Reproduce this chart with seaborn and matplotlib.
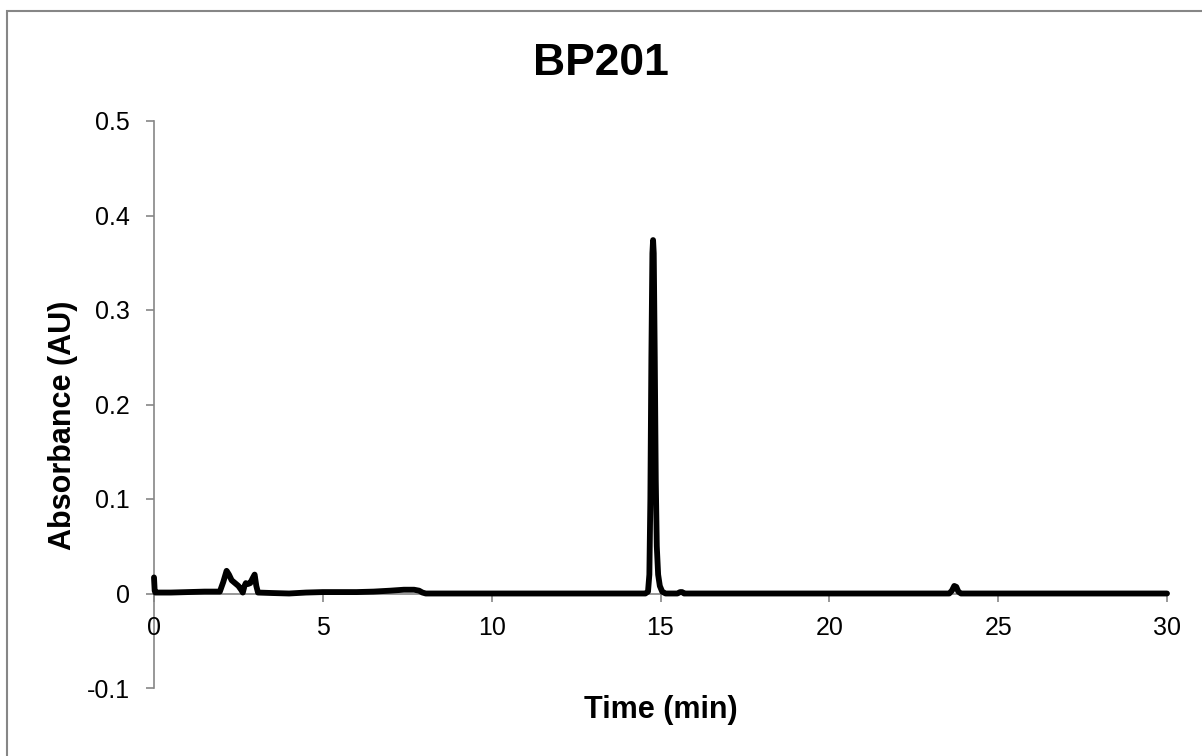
import matplotlib
matplotlib.use("Agg")
import matplotlib.pyplot as plt
import seaborn as sns
import pandas as pd
from matplotlib.patches import Rectangle

# ---- data ----
time_min = [0.00, 0.02, 0.04, 0.5, 1.0, 1.5, 1.95, 2.05, 2.15, 2.22, 2.30, 2.40,
            2.50, 2.58, 2.63, 2.68, 2.72, 2.78, 2.85, 2.92, 2.98, 3.03, 3.08,
            3.5, 4.0, 4.5, 5.0, 5.5, 6.0, 6.5, 7.0, 7.4, 7.7, 7.85, 7.95, 8.05,
            8.5, 9.0, 10.0, 11.0, 12.0, 13.0, 14.0, 14.55, 14.63, 14.67, 14.70,
            14.73, 14.76, 14.78, 14.80, 14.83, 14.86, 14.89, 14.93, 14.98, 15.05,
            15.15, 15.50, 15.58, 15.64, 15.70, 16.0, 18.0, 20.0, 22.0, 23.55,
            23.63, 23.70, 23.76, 23.82, 23.90, 25.0, 27.0, 29.0, 30.0]
absorbance = [0.017, 0.003, 0.001, 0.001, 0.0015, 0.002, 0.002, 0.012, 0.024, 0.020,
              0.014, 0.011, 0.008, 0.004, 0.001, 0.008, 0.011, 0.010, 0.011, 0.016,
              0.020, 0.008, 0.001, 0.0005, 0.0, 0.001, 0.0015, 0.0015, 0.0015, 0.002,
              0.003, 0.004, 0.004, 0.003, 0.001, 0.0, 0.0, 0.0, 0.0, 0.0, 0.0, 0.0,
              0.0, 0.0, 0.002, 0.02, 0.10, 0.25, 0.36, 0.374, 0.36, 0.25, 0.12,
              0.05, 0.02, 0.008, 0.002, 0.0, 0.0, 0.0015, 0.0015, 0.0, 0.0, 0.0,
              0.0, 0.0, 0.0, 0.003, 0.008, 0.007, 0.002, 0.0, 0.0, 0.0, 0.0, 0.0]
x_ticks = [0, 5, 10, 15, 20, 25, 30]
y_ticks = [-0.1, 0.0, 0.1, 0.2, 0.3, 0.4, 0.5]
y_tick_labels = ["-0.1", "0", "0.1", "0.2", "0.3", "0.4", "0.5"]
title = "BP201"
x_label = "Time (min)"
y_label = "Absorbance (AU)"

df = pd.DataFrame({"Time": time_min, "Abs": absorbance})

sns.set_style("white")
plt.rcParams["font.family"] = ["Liberation Sans", "DejaVu Sans"]
plt.rcParams["text.color"] = "black"
plt.rcParams["axes.labelcolor"] = "black"

W, H = 1202, 756
fig = plt.figure(figsize=(W / 100, H / 100), dpi=100)
ax = fig.add_axes([154 / W, 1 - 688 / H, (1167 - 154) / W, (688 - 121) / H])

sns.lineplot(data=df, x="Time", y="Abs", ax=ax, color="black", linewidth=4.2,
             estimator=None, sort=False)
for ln in ax.lines:
    ln.set_clip_on(False)
    ln.set_solid_capstyle("round")
    ln.set_solid_joinstyle("round")

ax.set_xlim(0, 30)
ax.set_ylim(-0.1, 0.5)
ax.set_xticks(x_ticks)
ax.set_xticklabels([str(t) for t in x_ticks])
ax.set_yticks(y_ticks)
ax.set_yticklabels(y_tick_labels)

grey = "#868686"
for s in ["top", "right"]:
    ax.spines[s].set_visible(False)
ax.spines["bottom"].set_position(("data", 0))
for s in ["left", "bottom"]:
    ax.spines[s].set_color(grey)
    ax.spines[s].set_linewidth(1.2)
    ax.spines[s].set_zorder(0)

ax.tick_params(axis="both", which="major", direction="out", length=5.5, width=1.2,
               color=grey, labelsize=18, labelcolor="black",
               bottom=True, left=True, top=False, right=False)
ax.tick_params(axis="y", pad=12)
ax.tick_params(axis="x", pad=11)

ax.set_xlabel(x_label, fontsize=22, fontweight="bold", color="black")
ax.set_ylabel(y_label, fontsize=22, fontweight="bold", color="black")
ax.xaxis.set_label_coords(0.5, -0.012)
ax.yaxis.set_label_coords(-0.075, 0.464)

fig.suptitle(title, x=0.5, y=1 - 75 / H, va="baseline", fontsize=32,
             fontweight="bold", color="black")

fig.patches.append(Rectangle((7 / W, -0.1), 1.2, 1 - 11 / H + 0.1,
                             transform=fig.transFigure, fill=False,
                             edgecolor=grey, linewidth=1.5))

fig.savefig("out.png", dpi=100)
